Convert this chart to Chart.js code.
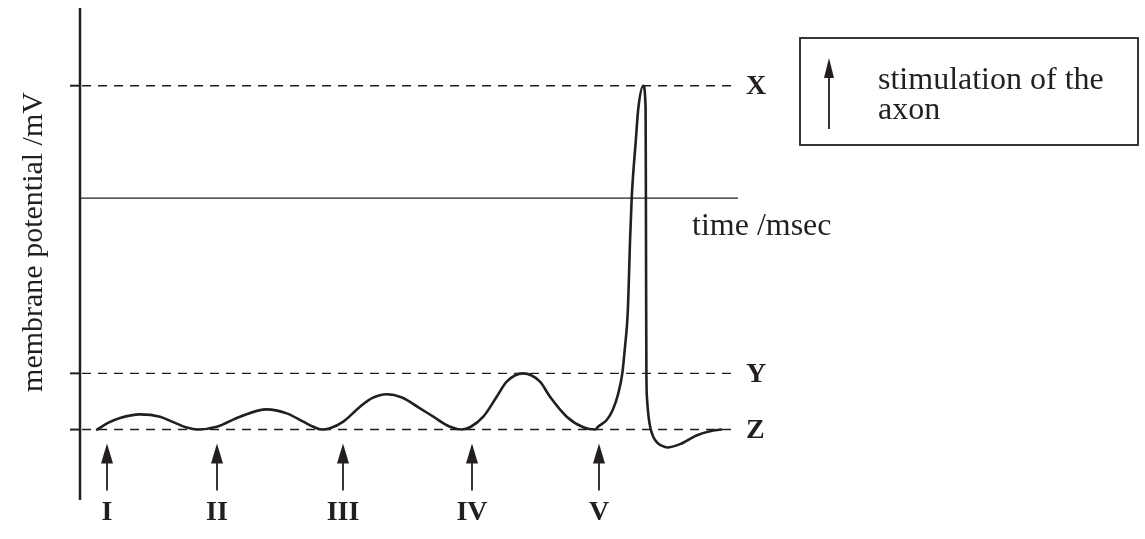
<!DOCTYPE html>
<html>
<head>
<meta charset="utf-8">
<title>membrane potential</title>
<script src="https://cdn.jsdelivr.net/npm/chart.js@4/dist/chart.umd.min.js"></script>
<style>
  html, body { margin: 0; padding: 0; background: #fff; }
  #wrap { width: 1145px; height: 539px; position: relative; }
</style>
</head>
<body>
<div id="wrap"><canvas id="potentialChart"></canvas></div>
<script>
// trace of the membrane potential (time in msec, potential in mV, schematic)
const timeMs = [
    1.7, 2.8, 4.0, 6.0, 8.0, 9.2, 10.67,
    11.8, 13.67, 16.0, 18.67, 20.67, 22.33, 23.33,
    24.2, 25.0, 26.33, 28.0, 29.2, 30.67, 32.2, 33.8, 35.33, 37.0,
    38.2, 39.0, 40.33, 41.67, 42.67, 44.3, 46.0, 47.0, 48.67, 50.33,
    51.5, 51.8, 52.67, 53.27, 53.83, 54.23, 54.5, 54.77, 54.88, 55.0, 55.17, 55.57, 55.83, 56.33,
    56.56, 56.59, 56.61, 56.64, 56.7, 56.8, 56.9, 57.08, 57.35, 57.7, 58.1, 58.7, 60.0, 61.7, 63.0, 64.1];
const potentialMv = [
    -70, -68.0, -66.5, -65.4, -66.1, -67.6, -69.4,
    -70, -69.15, -66.1, -63.9, -65.1, -67.6, -69.15,
    -70, -69.6, -67.6, -63.1, -60.5, -59.3, -60.3, -63.2, -66.1, -69.15,
    -70, -69.3, -66.1, -60.1, -55.5, -53, -55.5, -60.1, -66.1, -69.3,
    -70, -69.15, -67.1, -64.1, -59.05, -53.0, -45.0, -34.9, -25.4, -13.2, 0, 17.0, 27.1, 34,
    27.2, 0, -25.4, -52.9, -60.5, -64.4, -67.1, -70, -72.3, -73.9, -74.8, -75.4, -74.4, -71.7, -70.5, -70];

// stimulation arrows
const stimTimes = [2.7, 13.7, 26.3, 39.2, 51.9];
const stimLabels = ['I', 'II', 'III', 'IV', 'V'];

// reference levels
const levelNames = ['X', 'Y', 'Z'];
const levelValues = [34, -53, -70];
const timeAxisAt = 0;

const ink = '#231f20';
const serif = '"Liberation Serif", "Times New Roman", serif';

function arrow(ctx, x, tipY, baseY, headLen, headW) {
    ctx.beginPath();
    ctx.moveTo(x, baseY);
    ctx.lineTo(x, tipY + headLen - 2);
    ctx.stroke();
    ctx.beginPath();
    ctx.moveTo(x, tipY);
    ctx.lineTo(x - headW / 2, tipY + headLen);
    ctx.lineTo(x + headW / 2, tipY + headLen);
    ctx.closePath();
    ctx.fill();
}

const diagramPlugin = {
    id: 'diagram',
    beforeDatasetsDraw(chart) {
        const ctx = chart.ctx;
        const ys = chart.scales.y;
        const area = chart.chartArea;
        ctx.save();
        ctx.strokeStyle = ink;
        ctx.fillStyle = ink;

        // dashed level lines
        ctx.lineWidth = 1.4;
        ctx.setLineDash([9, 7]);
        levelValues.forEach(v => {
            const py = ys.getPixelForValue(v);
            ctx.beginPath();
            ctx.moveTo(area.left + 2, py);
            ctx.lineTo(area.right, py);
            ctx.stroke();
        });
        ctx.setLineDash([]);

        // time axis
        const ty = ys.getPixelForValue(timeAxisAt);
        ctx.lineWidth = 1.3;
        ctx.beginPath();
        ctx.moveTo(area.left, ty);
        ctx.lineTo(area.right, ty);
        ctx.stroke();

        // vertical axis and ticks
        ctx.lineWidth = 2.5;
        ctx.beginPath();
        ctx.moveTo(area.left, area.top);
        ctx.lineTo(area.left, area.bottom);
        ctx.stroke();
        ctx.lineWidth = 2;
        levelValues.forEach(v => {
            const py = ys.getPixelForValue(v);
            ctx.beginPath();
            ctx.moveTo(area.left - 10, py);
            ctx.lineTo(area.left, py);
            ctx.stroke();
        });
        ctx.restore();
    },
    afterDatasetsDraw(chart) {
        const ctx = chart.ctx;
        const xs = chart.scales.x, ys = chart.scales.y;
        const area = chart.chartArea;
        ctx.save();
        ctx.strokeStyle = ink;
        ctx.fillStyle = ink;

        // level letters
        ctx.font = 'bold 28px ' + serif;
        ctx.textAlign = 'left';
        ctx.textBaseline = 'middle';
        levelNames.forEach((n, i) => {
            ctx.fillText(n, area.right + 8, ys.getPixelForValue(levelValues[i]) + 1);
        });

        // stimulation arrows and numerals
        const zy = ys.getPixelForValue(levelValues[2]);
        ctx.lineWidth = 1.8;
        stimTimes.forEach((t, i) => {
            const px = xs.getPixelForValue(t);
            arrow(ctx, px, zy + 14, zy + 61, 20, 12);
            ctx.font = 'bold 28px ' + serif;
            ctx.textAlign = 'center';
            ctx.textBaseline = 'alphabetic';
            ctx.fillText(stimLabels[i], px, zy + 90);
        });

        // axis titles
        ctx.font = '32px ' + serif;
        ctx.textAlign = 'left';
        ctx.textBaseline = 'alphabetic';
        ctx.fillText('time /msec', 692, ys.getPixelForValue(timeAxisAt) + 37);

        ctx.save();
        ctx.font = '30px ' + serif;
        ctx.translate(42, 242);
        ctx.rotate(-Math.PI / 2);
        ctx.textAlign = 'center';
        ctx.fillText('membrane potential /mV', 0, 0);
        ctx.restore();

        // key box
        ctx.lineWidth = 1.8;
        ctx.strokeRect(800, 38, 338, 107);
        arrow(ctx, 829, 58, 129, 20, 10);
        ctx.font = '32px ' + serif;
        ctx.fillText('stimulation of the', 878, 89);
        ctx.fillText('axon', 878, 119);
        ctx.restore();
    }
};

new Chart(document.getElementById('potentialChart').getContext('2d'), {
    type: 'scatter',
    data: {
        datasets: [{
            data: timeMs.map((t, i) => ({ x: t, y: potentialMv[i] })),
            showLine: true,
            borderColor: ink,
            borderWidth: 2.6,
            borderJoinStyle: 'round',
            borderCapStyle: 'round',
            pointRadius: 0,
            cubicInterpolationMode: 'monotone',
            fill: false
        }]
    },
    options: {
        responsive: true,
        maintainAspectRatio: false,
        animation: false,
        layout: { padding: { left: 80, top: 8, right: 407, bottom: 39 } },
        plugins: { legend: { display: false }, tooltip: { enabled: false } },
        scales: {
            x: { type: 'linear', display: false, min: 0, max: 65.8 },
            y: { type: 'linear', display: false, min: -91.3, max: 57.5 }
        }
    },
    plugins: [diagramPlugin]
});
</script>
</body>
</html>
